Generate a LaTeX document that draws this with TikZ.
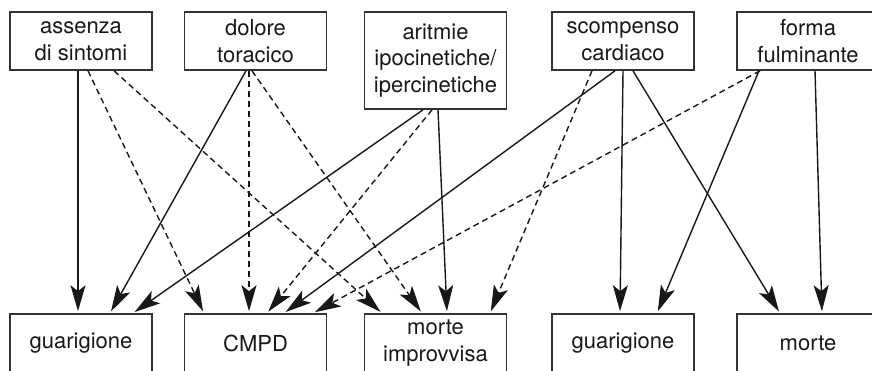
\documentclass[tikz,border=0pt]{standalone}
\usepackage{fontspec}
\setmainfont{TeX Gyre Heros}
\usetikzlibrary{arrows.meta}
\definecolor{ink}{HTML}{181818}
\definecolor{frame}{HTML}{333333}
\begin{document}
\begin{tikzpicture}[x=1pt,y=-1pt,
  box/.style={draw=frame,line width=1.6pt,minimum width=142pt,inner sep=0pt,
    align=center,text=ink,font=\fontsize{22}{26.5}\selectfont},
  sbox/.style={box,minimum height=58pt},
  tbox/.style={box,minimum height=97pt},
  conn/.style={draw=ink,line width=1.4pt,shorten >=2pt,
    -{Stealth[length=26pt,width=15pt,inset=6pt]}},
  dconn/.style={conn,dash pattern=on 6pt off 4pt}]
\useasboundingbox (0,0) rectangle (872,370);
% top row
\node[sbox] (A) at (81,41) {assenza\\di\ sintomi};
\node[sbox] (D) at (255.5,41) {dolore\\toracico};
\node[tbox] (R) at (435.5,60.5) {aritmie\\ipocinetiche/\\ipercinetiche};
\node[sbox] (S) at (623,41) {scompenso\\cardiaco};
\node[sbox] (F) at (808,41) {forma\\fulminante};
% bottom row
\node[sbox] (G1) at (81,343) {guarigione};
\node[sbox] (C) at (255.5,343) {CMPD};
\node[sbox] (M) at (435.5,343) {morte\\improvvisa};
\node[sbox] (G2) at (623,343) {guarigione};
\node[sbox] (Mo) at (808,343) {morte};
% from assenza
\draw[conn]  ([xshift=-3pt]A.south) -- ([xshift=-3pt]G1.north);
\draw[dconn] ([xshift=7pt]A.south) -- ([xshift=-51.5pt]C.north);
\draw[dconn] ([xshift=33pt]A.south) -- ([xshift=-53.5pt]M.north);
% from dolore
\draw[conn]  ([xshift=-9.5pt]D.south) -- ([xshift=29pt]G1.north);
\draw[dconn] ([xshift=-6.5pt]D.south) -- ([xshift=-6.5pt]C.north);
\draw[dconn] ([xshift=-3.5pt]D.south) -- ([xshift=-13.5pt]M.north);
% from aritmie
\draw[conn]  ([xshift=-12.5pt]R.south) -- ([xshift=52pt]G1.north);
\draw[dconn] ([xshift=-3.5pt]R.south) -- ([xshift=11.5pt]C.north);
\draw[conn]  ([xshift=2.5pt]R.south) -- ([xshift=11.5pt]M.north);
% from scompenso
\draw[conn]  ([xshift=-8pt]S.south) -- ([xshift=28.5pt]C.north);
\draw[dconn] ([xshift=-31pt]S.south) -- ([xshift=54.5pt]M.north);
\draw[conn]  ([xshift=0pt]S.south) -- ([xshift=-3pt]G2.north);
\draw[conn]  ([xshift=10pt]S.south) -- ([xshift=-28pt]Mo.north);
% from forma
\draw[dconn] ([xshift=-48pt]F.south) -- ([xshift=57.5pt]C.north);
\draw[conn]  ([xshift=-49pt]F.south) -- ([xshift=34pt]G2.north);
\draw[conn]  ([xshift=7pt]F.south) -- ([xshift=14pt]Mo.north);
\end{tikzpicture}
\end{document}
